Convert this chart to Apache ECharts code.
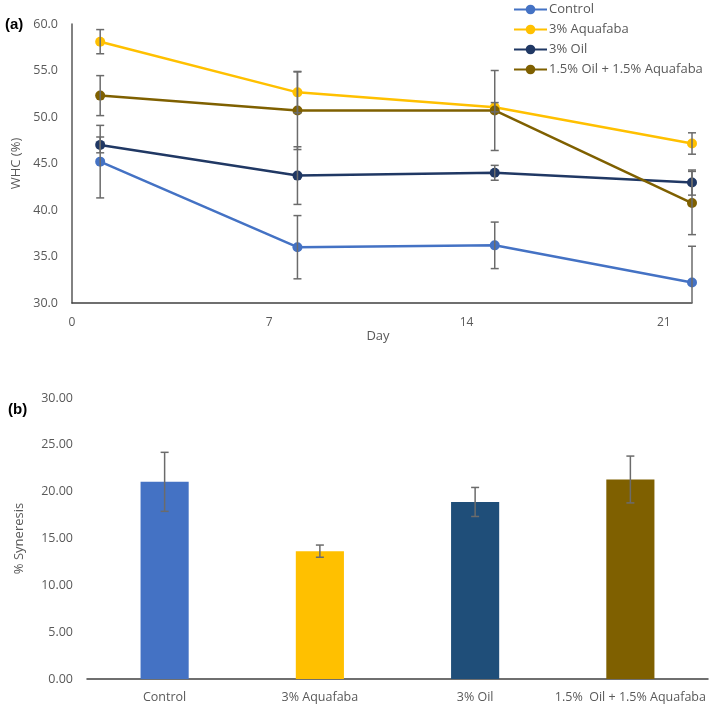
<!DOCTYPE html>
<html><head><meta charset="utf-8">
<script src="https://cdn.jsdelivr.net/npm/echarts@6/dist/echarts.min.js"></script>
<style>html,body{margin:0;padding:0;background:#fff}#c{width:709px;height:707px}</style>
</head><body><div id="c"></div>
<script>
// ---- Data (a) WHC over days ----
const days = [1, 8, 15, 22];
const seriesNames = ['Control', '3% Aquafaba', '3% Oil', '1.5% Oil + 1.5% Aquafaba'];
const controlWHC = [45.2, 36.0, 36.2, 32.2];
const controlErr = [3.9, 3.4, 2.5, 3.9];
const aquafabaWHC = [58.1, 52.65, 51.05, 47.15];
const aquafabaErr = [1.3, 2.2, 0.5, 1.15];
const oilWHC = [47.0, 43.7, 44.0, 42.95];
const oilErr = [0.85, 3.1, 0.8, 1.35];
const mixWHC = [52.3, 50.7, 50.7, 40.75];
const mixErr = [2.15, 4.2, 4.3, 3.4];
const xTicks = [0, 7, 14, 21];

// ---- Data (b) Syneresis ----
const barCategories = ['Control', '3% Aquafaba', '3% Oil', '1.5%  Oil + 1.5% Aquafaba'];
const syneresis = [21.05, 13.65, 18.9, 21.3];
const syneresisErr = [3.15, 0.65, 1.55, 2.5];

const lineColors = ['#4472C4', '#FFC000', '#203864', '#7F6000'];
const barColors = ['#4472C4', '#FFC000', '#1F4E79', '#7F6000'];
const FONT = 'Open Sans';
const TXT = '#595959';
const ERR = '#6b6b6b';

const topMin = 30, botMin = 0;

function errRender(minV) {
  return function (params, api) {
    const x = api.value(0), y = api.value(1), e = api.value(2);
    let lowV = y - e, clipped = false;
    if (lowV < minV) { lowV = minV; clipped = true; }
    const hi = api.coord([x, y + e]);
    const lo = api.coord([x, lowV]);
    const w = 4;
    const st = { stroke: ERR, lineWidth: 1.5 };
    const ch = [
      { type: 'line', shape: { x1: hi[0], y1: hi[1], x2: lo[0], y2: lo[1] }, style: st },
      { type: 'line', shape: { x1: hi[0] - w, y1: hi[1], x2: hi[0] + w, y2: hi[1] }, style: st }
    ];
    if (!clipped) ch.push({ type: 'line', shape: { x1: lo[0] - w, y1: lo[1], x2: lo[0] + w, y2: lo[1] }, style: st });
    return { type: 'group', children: ch };
  };
}

const lineVals = [controlWHC, aquafabaWHC, oilWHC, mixWHC];
const lineErrs = [controlErr, aquafabaErr, oilErr, mixErr];

const series = [];
lineVals.forEach((vals, i) => {
  series.push({
    name: seriesNames[i], type: 'line', xAxisIndex: 0, yAxisIndex: 0,
    data: days.map((d, k) => [d, vals[k]]),
    symbol: 'circle', symbolSize: 10, lineStyle: { width: 2.5, color: lineColors[i] },
    itemStyle: { color: lineColors[i] }, z: 3, animation: false
  });
});
lineVals.forEach((vals, i) => {
  series.push({
    type: 'custom', xAxisIndex: 0, yAxisIndex: 0, z: 4,
    data: days.map((d, k) => [d, vals[k], lineErrs[i][k]]),
    renderItem: errRender(topMin), silent: true, animation: false
  });
});
series.push({
  type: 'bar', xAxisIndex: 1, yAxisIndex: 1, barWidth: '31%',
  data: syneresis.map((v, i) => ({ value: v, itemStyle: { color: barColors[i] } })),
  animation: false
});
series.push({
  type: 'custom', xAxisIndex: 1, yAxisIndex: 1, z: 4,
  data: syneresis.map((v, i) => [i, v, syneresisErr[i]]),
  renderItem: errRender(botMin), silent: true, animation: false
});

const chart = echarts.init(document.getElementById('c'));
chart.setOption({
  animation: false,
  textStyle: { fontFamily: FONT },
  title: [
    { text: '(a)', left: 0, top: 12, textStyle: { fontSize: 15, fontWeight: 'bold', color: '#000', fontFamily: 'Liberation Sans' } },
    { text: '(b)', left: 3, top: 397, textStyle: { fontSize: 15, fontWeight: 'bold', color: '#000', fontFamily: 'Liberation Sans' } }
  ],
  legend: {
    data: seriesNames, orient: 'vertical', left: 508, top: -2,
    itemWidth: 33, itemHeight: 12, itemGap: 7,
    textStyle: { fontSize: 13, color: TXT, fontFamily: FONT, padding: [0, 0, 0, -3] }
  },
  grid: [
    { left: 72, right: 17, top: 24, bottom: 404, containLabel: false },
    { left: 87, right: 1, top: 398, bottom: 28, containLabel: false }
  ],
  xAxis: [
    { type: 'value', gridIndex: 0, min: 0, max: 22, interval: 7,
      axisLine: { show: true, lineStyle: { color: '#404040', width: 1.5 } },
      axisTick: { show: false }, splitLine: { show: false },
      axisLabel: { color: TXT, fontSize: 12, margin: 14, hideOverlap: false,
        formatter: v => (xTicks.indexOf(v) >= 0 ? String(v) : '') },
      name: 'Day', nameLocation: 'middle', nameGap: 26,
      nameTextStyle: { color: TXT, fontSize: 13, padding: [0, 8, 0, 0] } },
    { type: 'category', gridIndex: 1, data: barCategories,
      axisLine: { show: true, lineStyle: { color: '#404040', width: 1.5 } },
      axisTick: { show: false },
      axisLabel: { color: TXT, fontSize: 12.5, margin: 12, interval: 0 } }
  ],
  yAxis: [
    { type: 'value', gridIndex: 0, min: 30, max: 60, interval: 5,
      axisLine: { show: true, lineStyle: { color: '#595959', width: 1.5 } },
      axisTick: { show: false }, splitLine: { show: false },
      axisLabel: { color: TXT, fontSize: 12.5, margin: 14, formatter: v => v.toFixed(1) },
      name: 'WHC (%)', nameLocation: 'middle', nameGap: 45, nameRotate: 90,
      nameTextStyle: { color: TXT, fontSize: 13 } },
    { type: 'value', gridIndex: 1, min: 0, max: 30, interval: 5,
      axisLine: { show: false }, axisTick: { show: false }, splitLine: { show: false },
      axisLabel: { color: TXT, fontSize: 12.5, margin: 14, formatter: v => v.toFixed(2) },
      name: '% Syneresis', nameLocation: 'middle', nameGap: 61, nameRotate: 90,
      nameTextStyle: { color: TXT, fontSize: 13 } }
  ],
  series: series
});
</script></body></html>
